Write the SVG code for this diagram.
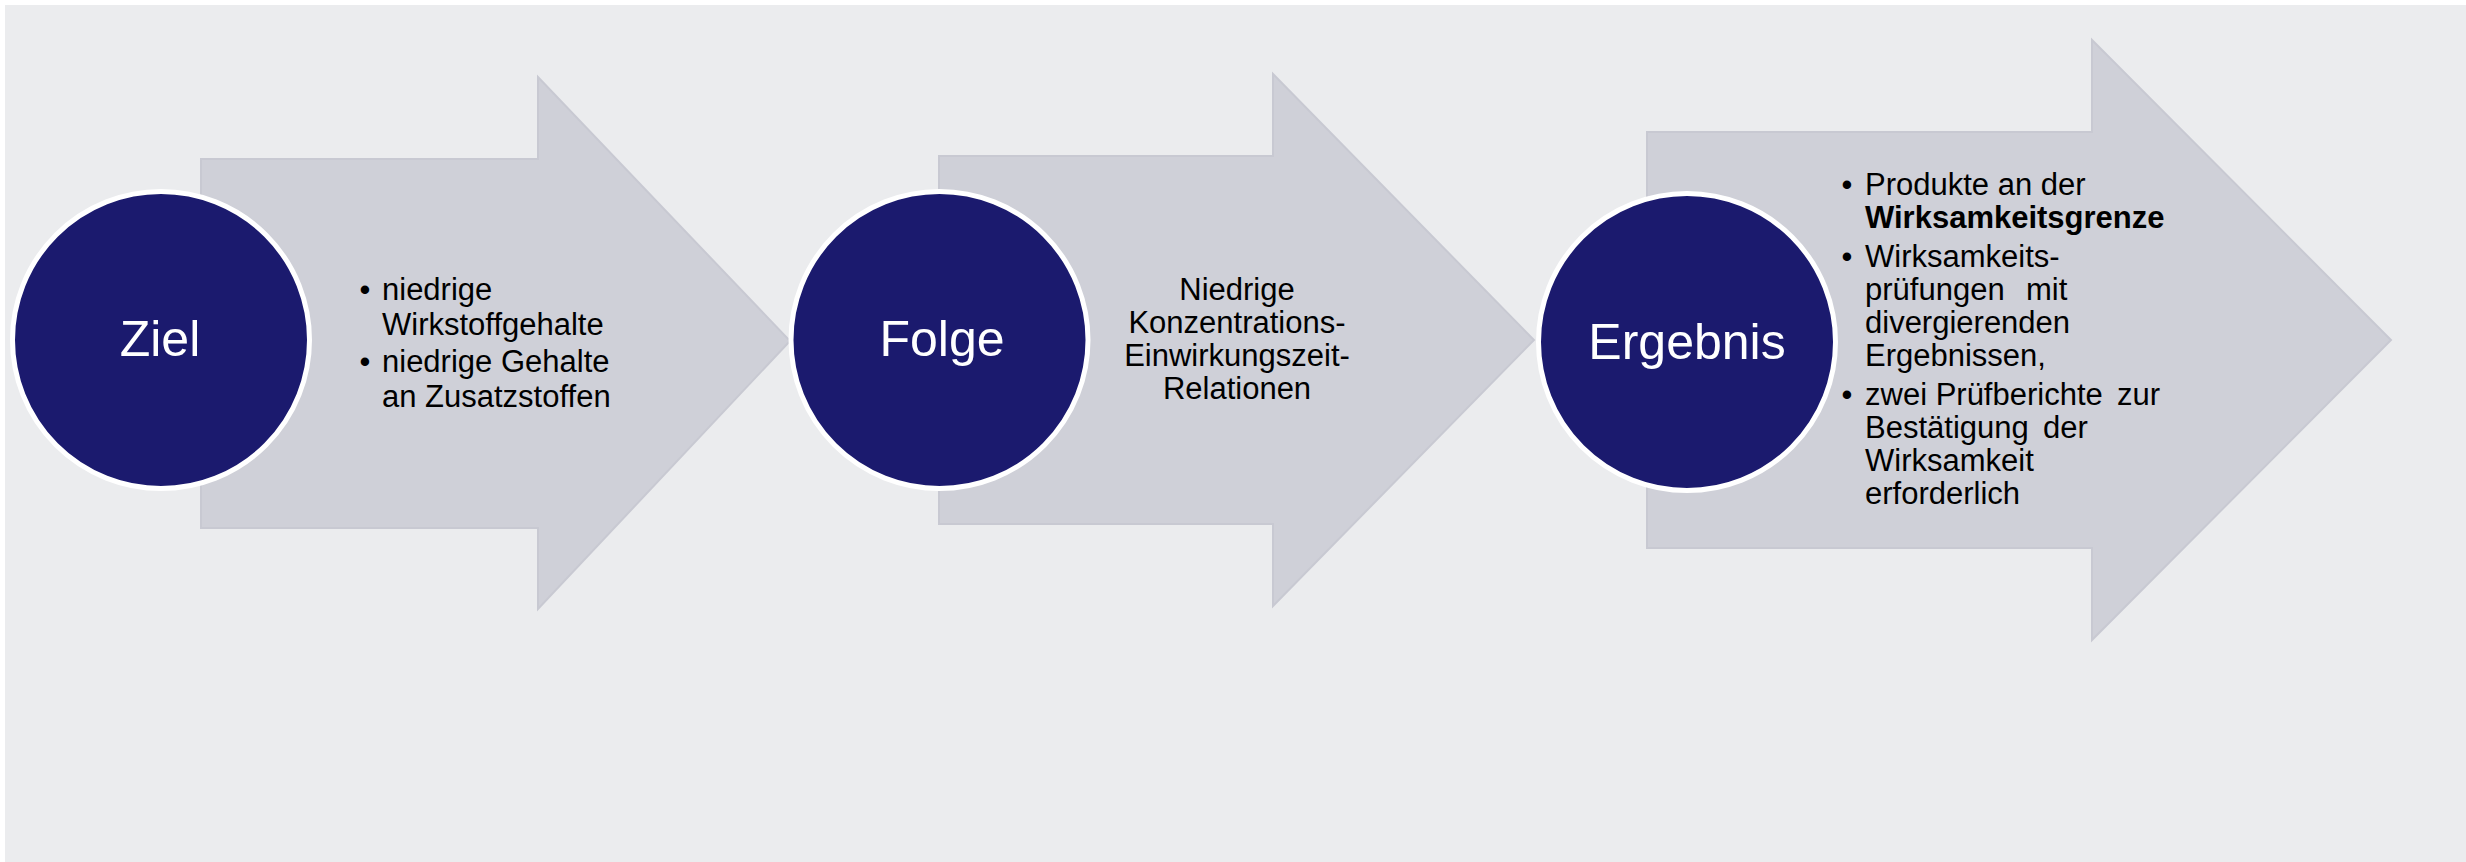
<svg xmlns="http://www.w3.org/2000/svg" width="2466" height="862" viewBox="0 0 2466 862">
  <style>
    .panel { fill: #EBECEE; }
    .arrow { fill: #CFD0D8; stroke: #C8C9D2; stroke-width: 2; stroke-linejoin: miter; }
    .disc { fill: #1B1A6E; stroke: #FFFFFF; stroke-width: 5; }
    .title { font-family: "Liberation Sans", Arial, sans-serif; font-size: 50px; fill: #FFFFFF; text-anchor: middle; }
    .body { font-family: "Liberation Sans", Arial, sans-serif; font-size: 31px; fill: #000000; }
    .bullet { text-anchor: middle; }
    .center { text-anchor: middle; }
    .bold { font-weight: bold; }
  </style>

  <rect width="2466" height="862" fill="#FFFFFF"/>
  <rect class="panel" x="5" y="5" width="2461" height="857"/>

  <!-- block arrows carrying the step descriptions -->
  <g id="connectors">
    <polygon id="arrow-1" class="arrow" points="201,159 538,159 538,77 790,341 538,609 538,528 201,528"/>
    <polygon id="arrow-2" class="arrow" points="939,156 1273,156 1273,74 1534,340 1273,606 1273,524 939,524"/>
    <polygon id="arrow-3" class="arrow" points="1647,132 2092,132 2092,40 2391,340 2092,640 2092,548 1647,548"/>
  </g>

  <!-- step 1 -->
  <g id="node-ziel">
    <circle class="disc" cx="161" cy="340" r="148.5"/>
    <text class="title" x="160" y="356">Ziel</text>
  </g>
  <g id="text-ziel" class="body">
    <text class="bullet" x="365" y="300">•</text>
    <text x="382" y="300">niedrige</text>
    <text x="382" y="334.5">Wirkstoffgehalte</text>
    <text class="bullet" x="365" y="371.5">•</text>
    <text x="382" y="371.5">niedrige Gehalte</text>
    <text x="382" y="406.5">an Zusatzstoffen</text>
  </g>

  <!-- step 2 -->
  <g id="node-folge">
    <circle class="disc" cx="939.5" cy="340" r="148.5"/>
    <text class="title" x="942" y="355.5">Folge</text>
  </g>
  <g id="text-folge" class="body center">
    <text x="1237" y="299.5">Niedrige</text>
    <text x="1237" y="332.5">Konzentrations-</text>
    <text x="1237" y="365.5">Einwirkungszeit-</text>
    <text x="1237" y="398.5">Relationen</text>
  </g>

  <!-- step 3 -->
  <g id="node-ergebnis">
    <circle class="disc" cx="1687" cy="342" r="148.5"/>
    <text class="title" x="1687" y="359">Ergebnis</text>
  </g>
  <g id="text-ergebnis" class="body">
    <text class="bullet" x="1847" y="195">•</text>
    <text x="1865" y="195">Produkte an der</text>
    <text class="bold" x="1865" y="227.5">Wirksamkeitsgrenze</text>
    <text class="bullet" x="1847" y="266.5">•</text>
    <text x="1865" y="266.5">Wirksamkeits-</text>
    <text y="299.5"><tspan x="1865">prüfungen</tspan><tspan x="2026">mit</tspan></text>
    <text x="1865" y="332.5">divergierenden</text>
    <text x="1865" y="365.5">Ergebnissen,</text>
    <text class="bullet" x="1847" y="405">•</text>
    <text y="405"><tspan x="1865">zwei Prüfberichte</tspan><tspan x="2117">zur</tspan></text>
    <text y="438"><tspan x="1865">Bestätigung</tspan><tspan x="2043">der</tspan></text>
    <text x="1865" y="471">Wirksamkeit</text>
    <text x="1865" y="503.5">erforderlich</text>
  </g>
</svg>
